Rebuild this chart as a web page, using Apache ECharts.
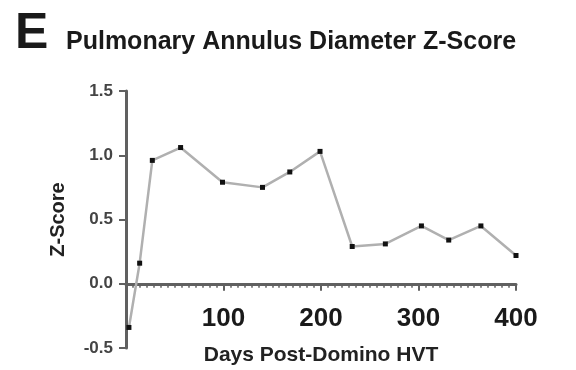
<!DOCTYPE html>
<html>
<head>
<meta charset="utf-8">
<script src="https://cdn.jsdelivr.net/npm/echarts@6/dist/echarts.min.js"></script>
<style>
html,body{margin:0;padding:0;background:#fff;}
#chart{width:576px;height:370px;}
</style>
</head>
<body>
<div id="chart"></div>
<script>
var days = [3, 14, 27, 56, 99, 140, 168, 199, 232, 266, 303, 331, 364, 400];
var zScores = [-0.34, 0.16, 0.96, 1.06, 0.79, 0.75, 0.87, 1.03, 0.29, 0.31, 0.45, 0.34, 0.45, 0.22];
var panelLabel = 'E';
var chartTitle = 'Pulmonary Annulus Diameter Z-Score';
var xName = 'Days Post-Domino HVT';
var yName = 'Z-Score';

var points = days.map(function (d, i) { return [d, zScores[i]]; });
var axisColor = '#606060';
var font = 'Liberation Sans, Arial, sans-serif';

var chart = echarts.init(document.getElementById('chart'), null, {renderer: 'canvas'});
chart.setOption({
  animation: false,
  title: [
    {text: panelLabel, left: 10, top: 4,
     textStyle: {fontSize: 50, fontWeight: 'bold', color: '#1a1a1a', fontFamily: font}},
    {text: chartTitle, left: 61, top: 25,
     textStyle: {fontSize: 25, fontWeight: 'bold', color: '#1a1a1a', fontFamily: font}}
  ],
  grid: {left: 126, right: 60, top: 91, bottom: 22, containLabel: false, outerBoundsMode: 'none'},
  xAxis: {
    type: 'value', min: 0, max: 400, interval: 100,
    name: xName, nameLocation: 'middle', nameGap: -3,
    nameTextStyle: {fontSize: 21, fontWeight: 'bold', color: '#222', fontFamily: font},
    axisLine: {onZero: true, lineStyle: {color: axisColor, width: 3}},
    axisTick: {length: 7, lineStyle: {color: axisColor, width: 2}},
    minorTick: {show: true, splitNumber: 14, length: 4, lineStyle: {color: axisColor, width: 1.5}},
    splitLine: {show: false},
    axisLabel: {margin: -42, fontSize: 26, fontWeight: 'bold', color: '#1a1a1a', fontFamily: font,
      formatter: function (v) { return v === 0 ? '' : String(v); }}
  },
  yAxis: {
    type: 'value', min: -0.5, max: 1.5, interval: 0.5,
    name: yName, nameLocation: 'middle', nameGap: 58, nameRotate: 90,
    nameTextStyle: {fontSize: 20, fontWeight: 'bold', color: '#222', fontFamily: font},
    axisLine: {show: true, onZero: false, lineStyle: {color: axisColor, width: 3}},
    axisTick: {show: true, length: 7, lineStyle: {color: axisColor, width: 2}},
    splitLine: {show: false},
    axisLabel: {margin: 13, fontSize: 17, fontWeight: 'bold', color: '#444', fontFamily: font,
      formatter: function (v) { return v.toFixed(1); }}
  },
  series: [{
    type: 'line', data: points,
    symbol: 'rect', symbolSize: 5,
    itemStyle: {color: '#111'},
    lineStyle: {color: '#b0b0b0', width: 2.5},
    z: 5
  }]
});
</script>
</body>
</html>
